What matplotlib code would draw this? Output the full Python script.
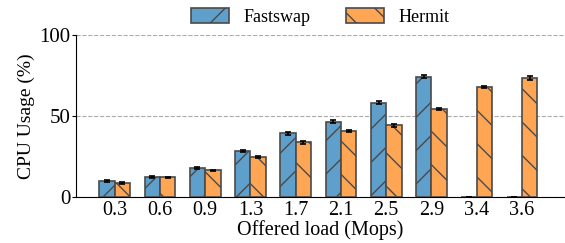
import matplotlib

matplotlib.use("Agg")
import matplotlib.pyplot as plt  # noqa: E402
import numpy as np  # noqa: E402

loads = ["0.3", "0.6", "0.9", "1.3", "1.7", "2.1", "2.5", "2.9", "3.4", "3.6"]
fastswap = [9.8, 12.3, 17.8, 28.2, 39.3, 46.6, 58.3, 74.2, 0, 0]
hermit = [8.6, 12.0, 16.5, 24.5, 33.7, 40.5, 44.2, 54.6, 68.1, 73.6]
fastswap_err = [0.6, 0.4, 0.5, 0.6, 1.0, 0.7, 0.8, 0.9, 0, 0]
hermit_err = [0.4, 0.5, 0.4, 0.7, 0.7, 0.6, 0.7, 0.6, 0.6, 1.0]

plt.rcParams["font.family"] = ["Liberation Serif", "DejaVu Serif"]
plt.rcParams["hatch.linewidth"] = 1.0
plt.rcParams["hatch.color"] = "#222222"

fig, ax = plt.subplots(figsize=(5.65, 2.43), dpi=100)
x = np.arange(len(loads))
w = 0.34

err_style = dict(ecolor="black", capsize=2.5, elinewidth=1.2, capthick=1.2)
ax.bar(x - w / 2, fastswap, w, yerr=fastswap_err, color="#5e9fcb",
       edgecolor="#4a4a4a", linewidth=1.2, hatch="/", label="Fastswap",
       error_kw=err_style, zorder=3)
ax.bar(x + w / 2, hermit, w, yerr=hermit_err, color="#ffa654",
       edgecolor="#4a4a4a", linewidth=1.2, hatch="\\", label="Hermit",
       error_kw=err_style, zorder=3)

ax.set_xticks(x)
ax.set_xticklabels(loads, fontsize=14.5)
ax.tick_params(axis="x", length=0, pad=3)
ax.set_yticks([0, 50, 100])
ax.tick_params(axis="y", labelsize=15, length=3, pad=1)
ax.set_ylim(0, 100)
ax.set_xlim(-0.86, 9.95)
ax.yaxis.grid(True, linestyle="--", color="#aaaaaa", linewidth=0.8, zorder=0)
ax.spines["top"].set_visible(False)
ax.spines["right"].set_visible(False)
ax.set_ylabel("CPU Usage (%)", fontsize=14, labelpad=3)
ax.set_xlabel("Offered load (Mops)", fontsize=14.5, labelpad=0)
ax.legend(loc="lower center", bbox_to_anchor=(0.5, 1.0), ncol=2, frameon=False,
          fontsize=13, handlelength=2.1, handleheight=0.9, columnspacing=2.0,
          handletextpad=0.8, borderaxespad=0.1)

fig.subplots_adjust(left=0.134, right=1.0, top=0.855, bottom=0.19)
fig.savefig("out.png", dpi=100)
